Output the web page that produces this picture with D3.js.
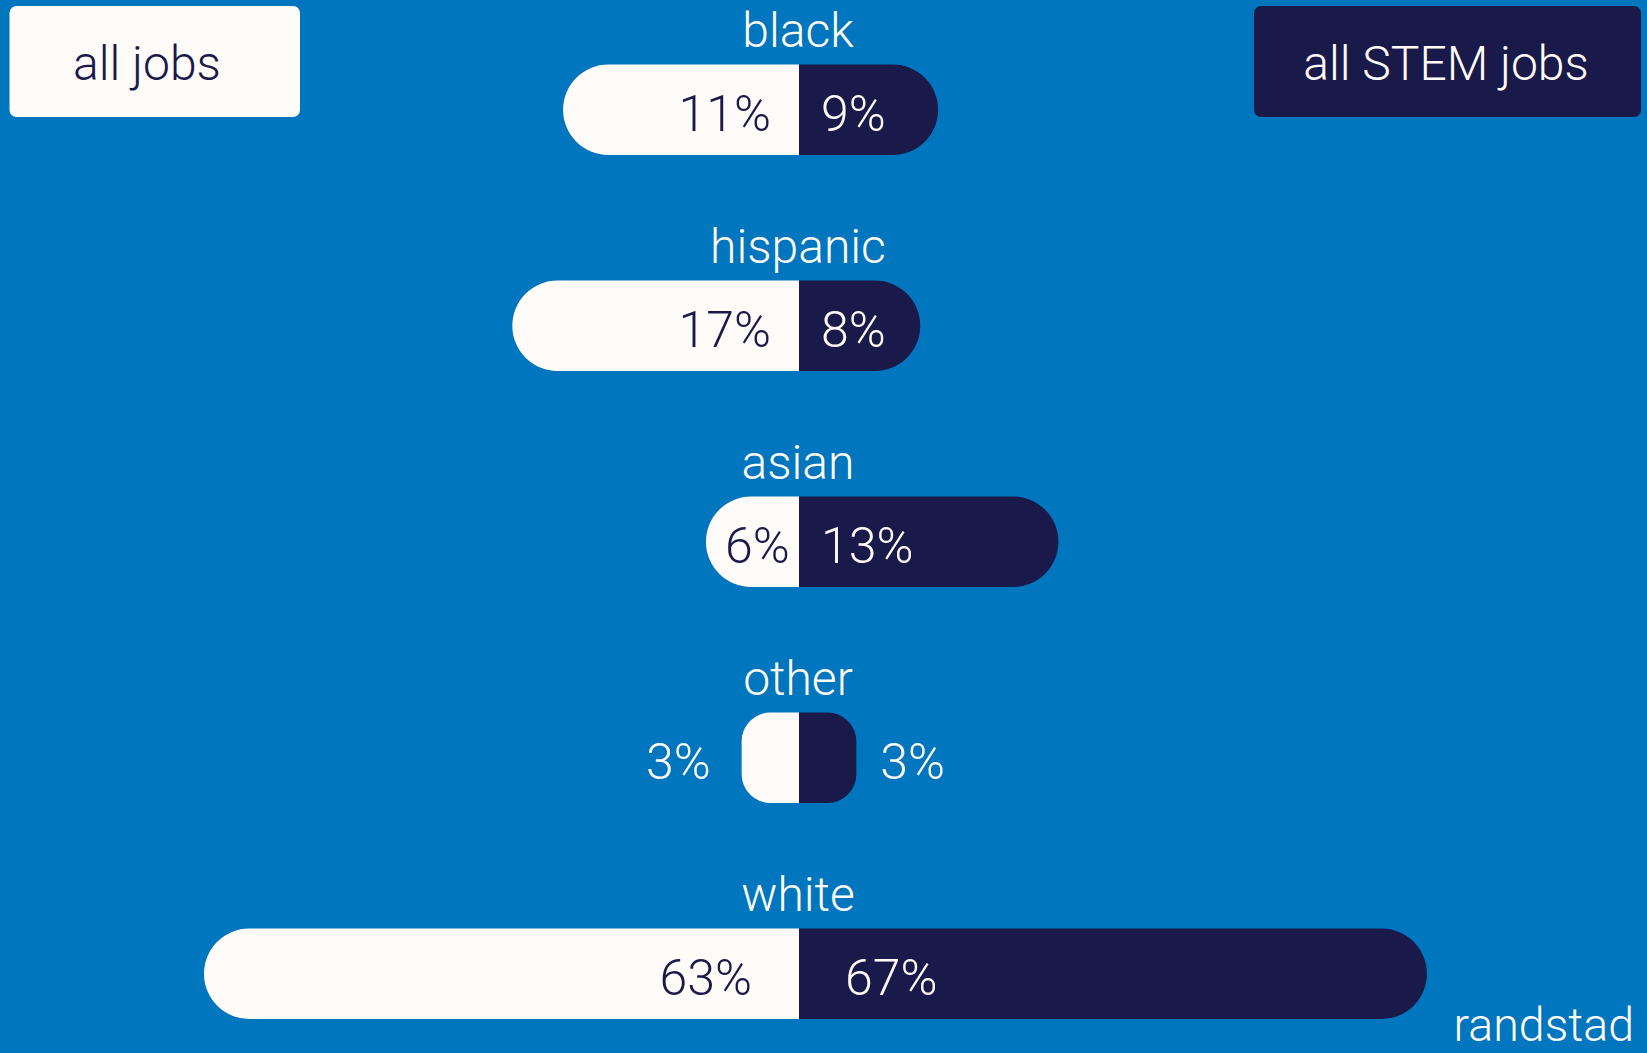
<!DOCTYPE html>
<html>
<head>
<meta charset="utf-8">
<script src="https://cdn.jsdelivr.net/npm/d3@7"></script>
<style>
  html, body { margin: 0; padding: 0; background: #0076BF; }
  svg { display: block; }
  text { font-family: Roboto, "Liberation Sans", sans-serif; font-weight: 300; }
</style>
</head>
<body>
<svg id="chart" width="1647" height="1053"></svg>
<script>
// ---- data ----
const categories = ["black", "hispanic", "asian", "other", "white"];
const seriesNames = ["all jobs", "all STEM jobs"];
// printed shares (%)
const allJobsPct = [11, 17, 6, 3, 63];
const stemJobsPct = [9, 8, 13, 3, 67];
// bar extents as drawn in the reference (percentage-point units on the bar scale)
const allJobsBar = [25.1, 30.5, 9.9, 6.1, 63.3];
const stemJobsBar = [14.8, 12.9, 27.6, 6.1, 66.8];
const sourceLabel = "randstad";

// ---- styles ----
const BG = "#0076BF", LIGHT = "#FFFBF8", NAVY = "#19194A";
const W = 1647, H = 1053;
const center = 799;
const barH = 90.5;

const svg = d3.select("#chart");
svg.append("rect").attr("width", W).attr("height", H).attr("fill", BG);

const x = d3.scaleLinear().domain([0, 100]).range([0, 940]);
const y = d3.scalePoint().domain(categories).range([64.5, 928.5]);

function halfPill(side, w, top) {
  const r = Math.min(barH / 2, w / 2);
  const p = d3.path();
  const bottom = top + barH;
  if (side === "left") {
    const x0 = center - w;
    p.moveTo(center, top);
    p.lineTo(x0 + r, top);
    p.arcTo(x0, top, x0, top + r, r);
    p.lineTo(x0, bottom - r);
    p.arcTo(x0, bottom, x0 + r, bottom, r);
    p.lineTo(center, bottom);
  } else {
    const x1 = center + w;
    p.moveTo(center, top);
    p.lineTo(x1 - r, top);
    p.arcTo(x1, top, x1, top + r, r);
    p.lineTo(x1, bottom - r);
    p.arcTo(x1, bottom, x1 - r, bottom, r);
    p.lineTo(center, bottom);
  }
  p.closePath();
  return p.toString();
}

const rows = categories.map((c, i) => ({
  cat: c, all: allJobsPct[i], stem: stemJobsPct[i],
  allBar: allJobsBar[i], stemBar: stemJobsBar[i]
}));

const g = svg.selectAll("g.row").data(rows).join("g").attr("class", "row");

// category labels
g.append("text")
  .attr("x", center - 1)
  .attr("y", d => y(d.cat) - 17.5)
  .attr("text-anchor", "middle")
  .attr("font-size", 48)
  .attr("fill", LIGHT)
  .text(d => d.cat);

// bars
g.append("path").attr("d", d => halfPill("left", x(d.allBar), y(d.cat))).attr("fill", LIGHT);
g.append("path").attr("d", d => halfPill("right", x(d.stemBar), y(d.cat))).attr("fill", NAVY);

// value labels
const NUM_FS = 50;
g.each(function(d) {
  const row = d3.select(this);
  const cy = y(d.cat) + barH / 2 + 21;
  const wl = x(d.allBar), wr = x(d.stemBar);

  const tl = row.append("text").attr("font-size", NUM_FS).attr("y", cy).text(d.all + "%");
  const lw = tl.node().getComputedTextLength();
  if (wl >= lw + 48) {
    const pad = wl > 400 ? 47 : 28;
    tl.attr("x", center - pad).attr("text-anchor", "end").attr("fill", NAVY);
  } else if (wl >= lw + 16) {
    tl.attr("x", center - wl / 2 + 5).attr("text-anchor", "middle").attr("fill", NAVY);
  } else {
    tl.attr("x", center - wl - 31).attr("text-anchor", "end").attr("fill", LIGHT);
  }

  const tr = row.append("text").attr("font-size", NUM_FS).attr("y", cy).text(d.stem + "%");
  const rw = tr.node().getComputedTextLength();
  if (wr >= rw + 40) {
    const pad = wr > 400 ? 46 : 22;
    tr.attr("x", center + pad).attr("text-anchor", "start").attr("fill", LIGHT);
  } else {
    tr.attr("x", center + wr + 24).attr("text-anchor", "start").attr("fill", LIGHT);
  }
});

// legend boxes
const legend = [
  { name: seriesNames[0], x: 9.5, w: 290.5, fill: LIGHT, color: NAVY, tx: 147 },
  { name: seriesNames[1], x: 1254, w: 387, fill: NAVY, color: LIGHT, tx: 1446 }
];
const lg = svg.selectAll("g.legend").data(legend).join("g").attr("class", "legend");
lg.append("rect").attr("x", d => d.x).attr("y", 6).attr("width", d => d.w).attr("height", 111)
  .attr("rx", 7).attr("fill", d => d.fill);
lg.append("text").attr("x", d => d.tx).attr("y", 80).attr("text-anchor", "middle")
  .attr("font-size", 48).attr("fill", d => d.color).text(d => d.name);

// source
svg.append("text").attr("x", 1634).attr("y", 1041).attr("text-anchor", "end")
  .attr("font-size", 46.5).attr("fill", LIGHT).text(sourceLabel);
</script>
</body>
</html>
